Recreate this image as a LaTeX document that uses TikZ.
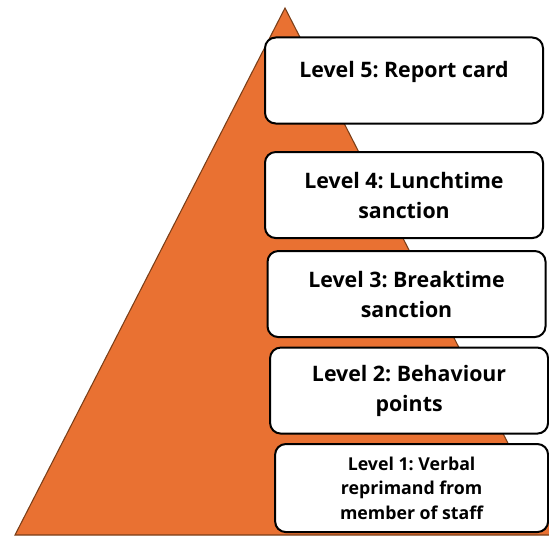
\documentclass[tikz,border=0pt]{standalone}
\usepackage{fontspec}
\setmainfont{Open Sans}
\usetikzlibrary{positioning}
\definecolor{pyramidorange}{HTML}{E97132}
\definecolor{pyramidedge}{HTML}{7A3E18}
\frenchspacing

\begin{document}
\begin{tikzpicture}[x=0.75pt,y=-0.75pt,thin]
\tikzstyle{level box}=[draw=black, line width=1.5pt, rounded corners=8pt, fill=white, minimum width=208.5pt, minimum height=64.5pt, align=center, font=\bfseries\fontsize{16}{22.5}\selectfont]

\useasboundingbox (0,0) rectangle (549,535);
\clip (0,0) rectangle (549,535);

\coordinate (T) at (285,8);
\coordinate (BL) at (15,535);
\coordinate (BR) at (555,535);
\filldraw[fill=pyramidorange, draw=pyramidedge, line width=0.8pt] (T) -- (BL) -- (BR) -- cycle;

\node[level box]		(L5) at (404,80.5) [text depth=17pt] {Level 5: Report card};
\node[level box]		(L4) [below of=L5, node distance=85.9pt] {Level 4: Lunchtime\\sanction};
\node[level box]		(L3) [below of=L4, node distance=74.25pt, xshift=1.9pt] {Level 3: Breaktime\\sanction};
\node[level box]		(L2) [below of=L3, node distance=72.4pt, xshift=1.9pt] {Level 2: Behaviour\\points};
\node[level box]		(L1) [below of=L2, node distance=73.1pt, xshift=1.9pt, minimum width=204.75pt, minimum height=66pt, font=\bfseries\fontsize{13.3}{18.4}\selectfont] {Level 1: Verbal\\reprimand from\\member of staff};
\end{tikzpicture}
\end{document}
